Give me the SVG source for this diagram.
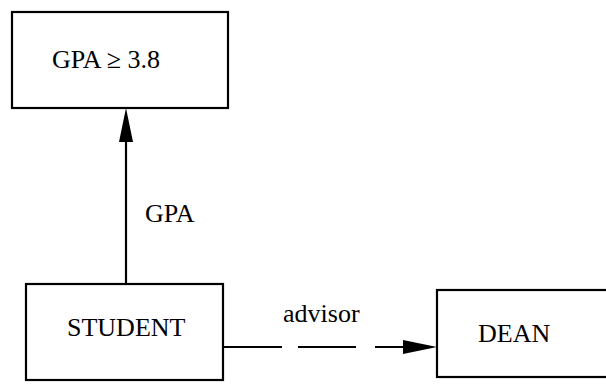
<svg xmlns="http://www.w3.org/2000/svg" width="606" height="387" viewBox="0 0 606 387">
  <style>
    .box { fill: #ffffff; stroke: #000000; stroke-width: 2.2; }
    .lbl { font-family: "Liberation Serif", "Times New Roman", serif; font-size: 26px; fill: #000000; }
    .conn { fill: none; stroke: #000000; stroke-width: 2.2; }
  </style>
  <defs>
    <marker id="arrow" viewBox="0 0 34 16" refX="3" refY="8" markerWidth="34" markerHeight="16" markerUnits="userSpaceOnUse" orient="auto">
      <path d="M0,1 L34,8 L0,15 Z" fill="#000000"/>
    </marker>
  </defs>
  <rect width="606" height="387" fill="#ffffff"/>
  <g id="connectors">
    <line id="gpa-edge" class="conn" x1="126" y1="284" x2="126" y2="139" marker-end="url(#arrow)"/>
    <line id="advisor-edge" class="conn" x1="223" y1="347" x2="406" y2="347" stroke-dasharray="59 16 58 19 200" marker-end="url(#arrow)"/>
    <text class="lbl" x="145" y="222">GPA</text>
    <text class="lbl" x="283" y="322">advisor</text>
  </g>
  <g id="node-gpa">
    <rect class="box" x="12" y="12" width="216" height="96"/>
    <text class="lbl" x="52" y="68">GPA ≥ 3.8</text>
  </g>
  <g id="node-student">
    <rect class="box" x="26" y="284" width="197" height="96"/>
    <text class="lbl" x="67" y="336">STUDENT</text>
  </g>
  <g id="node-dean">
    <rect class="box" x="437" y="290" width="200" height="87"/>
    <text class="lbl" x="478" y="342">DEAN</text>
  </g>
</svg>
